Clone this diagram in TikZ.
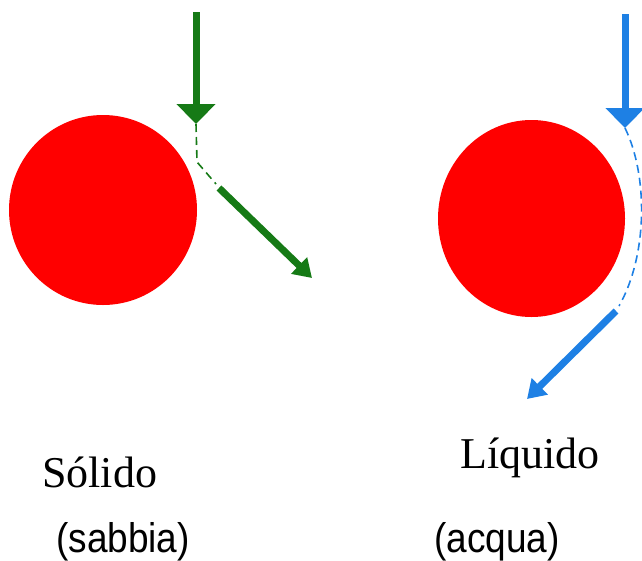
\documentclass[tikz,border=0pt]{standalone}
\usepackage{fontspec}
\setmainfont{Liberation Serif}
\newfontfamily\arialfont{Liberation Sans}
\usetikzlibrary{arrows.meta,shapes.geometric}
\definecolor{ballred}{RGB}{255,0,0}
\definecolor{solgreen}{RGB}{22,122,22}
\definecolor{liqblue}{RGB}{30,128,228}
\newcommand{\tallsans}[1]{\scalebox{1}[1.12]{#1}}
\begin{document}
\begin{tikzpicture}[x=1pt,y=-1pt,
  ball/.style={ellipse,fill=ballred,draw=none,inner sep=0},
  bigarrow/.style={line width=7pt,-{Triangle[length=20pt,width=38pt]}},
  smallarrow/.style={line width=7pt,-{Triangle[length=18pt,width=22pt]}},
  path dash/.style={line width=1.6pt,dash pattern=on 8pt off 5pt},
  serlabel/.style={anchor=base west,inner sep=0,font=\fontsize{44}{50}\selectfont},
  sanslabel/.style={anchor=base west,inner sep=0,font=\arialfont\fontsize{37}{44}\selectfont}]
\useasboundingbox (0,0) rectangle (642,560);
% balls
\node[ball,minimum width=188pt,minimum height=190pt] (sball) at (103,210) {};
\node[ball,minimum width=187pt,minimum height=197pt] (lball) at (531.5,218.5) {};
% solid (green)
\coordinate (g0) at (196,12);
\coordinate (g1) at (196,124);
\coordinate (g2) at (197,162);
\coordinate (g3) at (216,184);
\coordinate (g4) at (219,188);
\coordinate (g5) at (312,278);
\draw[solgreen,bigarrow] (g0) -- (g1);
\draw[solgreen,path dash] (g1) -- (g2) -- (g3);
\draw[solgreen,smallarrow] (g4) -- (g5);
% liquid (blue)
\coordinate (b0) at (625,14);
\coordinate (b1) at (625,128);
\coordinate (b2) at (619,306);
\coordinate (b3) at (616,311);
\coordinate (b4) at (527,399);
\draw[liqblue,bigarrow] (b0) -- (b1);
\draw[liqblue,path dash] (b1) .. controls (648,175) and (648,255) .. (b2);
\draw[liqblue,smallarrow] (b3) -- (b4);
% labels
\node[serlabel] (tsol) at (42,487) {Sólido};
\node[serlabel] (tliq) at (460,468) {Líquido};
\node[sanslabel] (tsab) at (56,552) {\tallsans{(sabbia)}};
\node[sanslabel] (tacq) at (434,552) {\tallsans{(acqua)}};
\end{tikzpicture}
\end{document}
